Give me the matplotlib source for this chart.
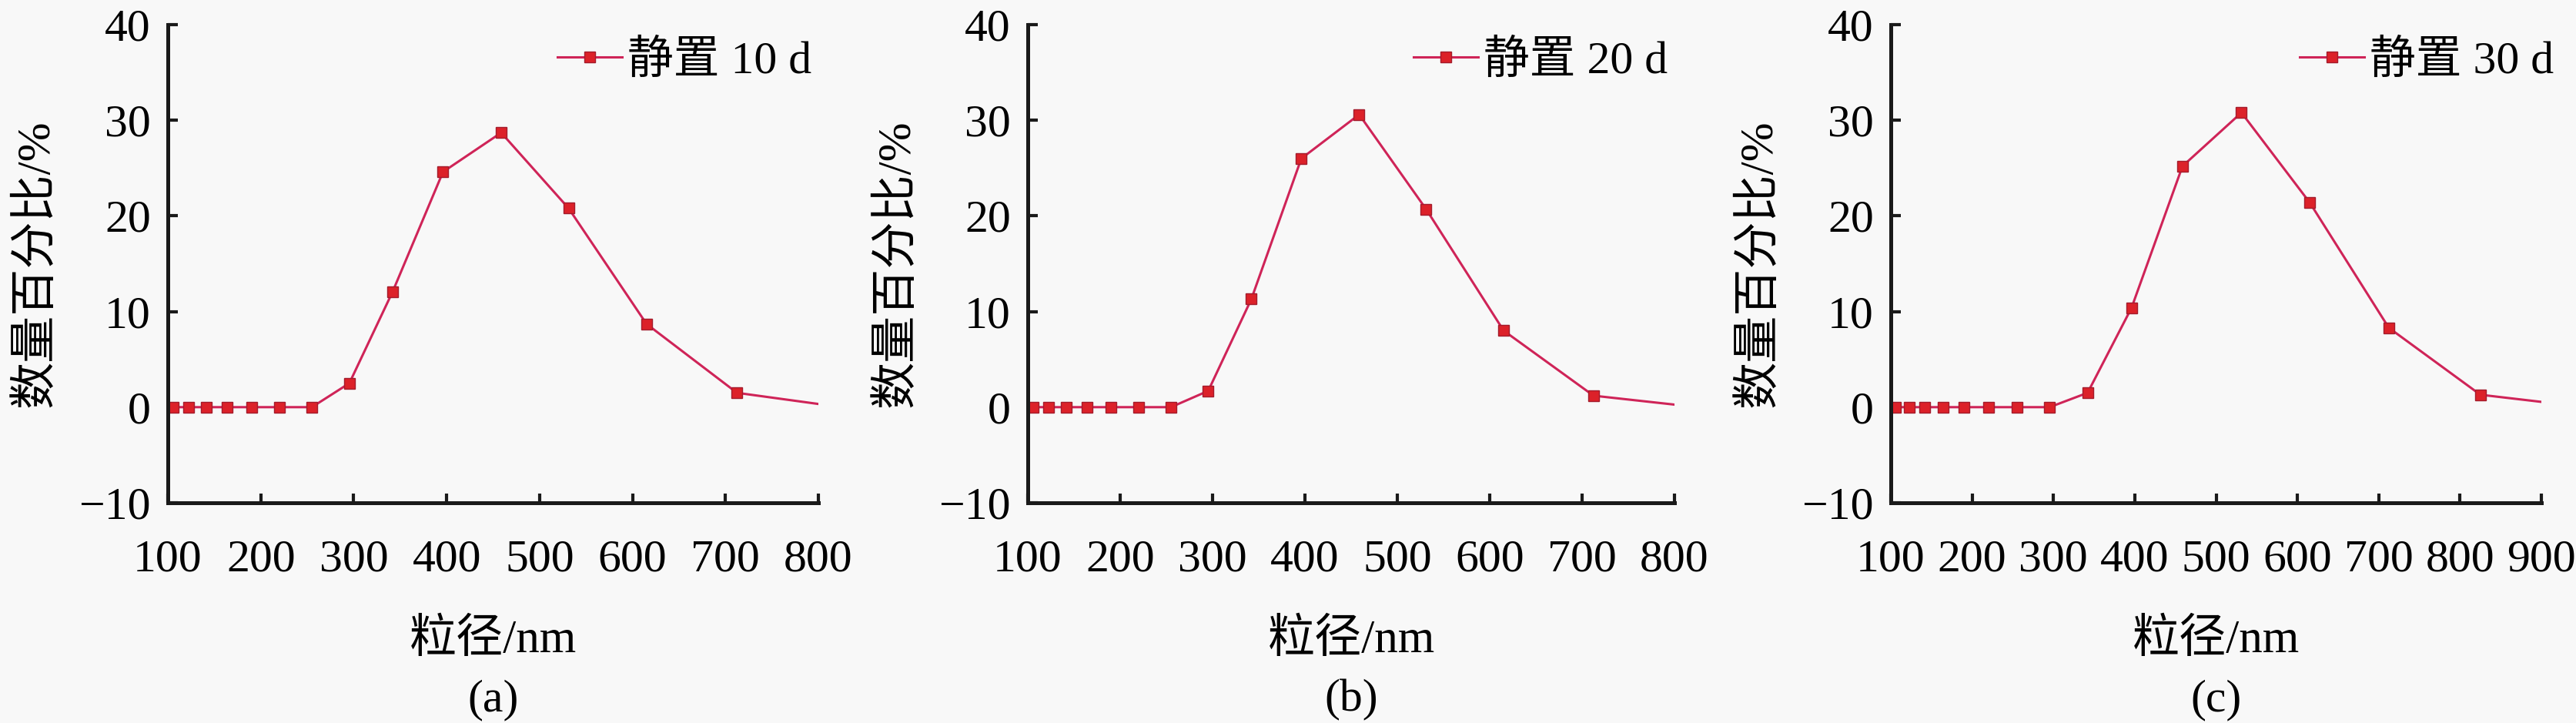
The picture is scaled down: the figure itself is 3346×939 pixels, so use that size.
import matplotlib
matplotlib.use('Agg')
import matplotlib.pyplot as plt

# particle size bins (nm) and number percentages
size_ab = [105.7, 122.4, 141.8, 164.2, 190.1, 220.2, 255.0, 295.3, 342.0,
           396.1, 458.7, 531.2, 615.1, 712.4, 825.0]
pct_10d = [0, 0, 0, 0, 0, 0, 0, 2.5, 12.1, 24.6, 28.7, 20.8, 8.7, 1.5, 0]
pct_20d = [0, 0, 0, 0, 0, 0, 0, 1.7, 11.3, 26.0, 30.6, 20.7, 8.0, 1.2, 0]

size_c = [105.7, 122.4, 141.8, 164.2, 190.1, 220.2, 255.0, 295.3, 342.0,
          396.1, 458.7, 531.2, 615.1, 712.4, 825.0, 955.4]
pct_30d = [0, 0, 0, 0, 0, 0, 0, 0, 1.5, 10.4, 25.2, 30.8, 21.4, 8.3, 1.3, 0]

labels = ['静置 10 d', '静置 20 d', '静置 30 d']
panel_tags = ['(a)', '(b)', '(c)']
xmax = [800, 800, 900]

plt.rcParams['font.family'] = ['Liberation Serif', 'Noto Sans CJK SC']
plt.rcParams['axes.unicode_minus'] = True

W, H = 3346, 939
bg = '#f8f8f8'
fig = plt.figure(figsize=(W / 100, H / 100), dpi=100)
fig.set_facecolor(bg)

# axes boxes in pixels: left, right
boxes = [(218, 1063), (1335, 2175), (2456, 3301)]
top_px, bot_px = 32, 653
legend_x = [724, 1836, 2987]

series = [(size_ab, pct_10d), (size_ab, pct_20d), (size_c, pct_30d)]

for i, ((l, r), (xs, ys)) in enumerate(zip(boxes, series)):
    ax = fig.add_axes([l / W, 1 - bot_px / H, (r - l) / W, (bot_px - top_px) / H])
    ax.set_facecolor(bg)
    ax.plot(xs, ys, color='#cf2458', lw=2.2, marker='s', markersize=10,
            markerfacecolor='#dc2129', markeredgecolor='#a31c2c',
            markeredgewidth=1.0, label=labels[i])
    ax.set_xlim(100, xmax[i])
    ax.set_ylim(-10, 40)
    ax.set_xticks(range(100, xmax[i] + 1, 100))
    ax.set_yticks([-10, 0, 10, 20, 30, 40])

    for pos in ['top', 'right']:
        ax.spines[pos].set_visible(False)
    for pos in ['left', 'bottom']:
        ax.spines[pos].set_linewidth(3.6)
        ax.spines[pos].set_color('#1a1a1a')
        ax.spines[pos].set_zorder(5)

    ax.tick_params(axis='both', direction='in', length=9, width=3,
                   labelsize=43, color='#1a1a1a')
    ax.tick_params(axis='x', pad=34)
    ax.tick_params(axis='y', pad=16)

    ax.set_xlabel('粒径/nm', fontsize=44)
    ax.xaxis.set_label_coords(0.5, -0.243)
    ax.set_ylabel('数量百分比/%', fontsize=44)
    ax.yaxis.set_label_coords(-0.168, 0.5)

    ax.text(0.5, -0.412, panel_tags[i], transform=ax.transAxes,
            ha='center', va='center', fontsize=43)

    ax.legend(loc='center left', bbox_to_anchor=(legend_x[i] / W, 1 - 80 / H),
              bbox_transform=fig.transFigure, frameon=False, fontsize=43,
              borderpad=0, borderaxespad=0, handlelength=1.4,
              handletextpad=0.12)

fig.savefig('out.png', dpi=100, facecolor=bg)
